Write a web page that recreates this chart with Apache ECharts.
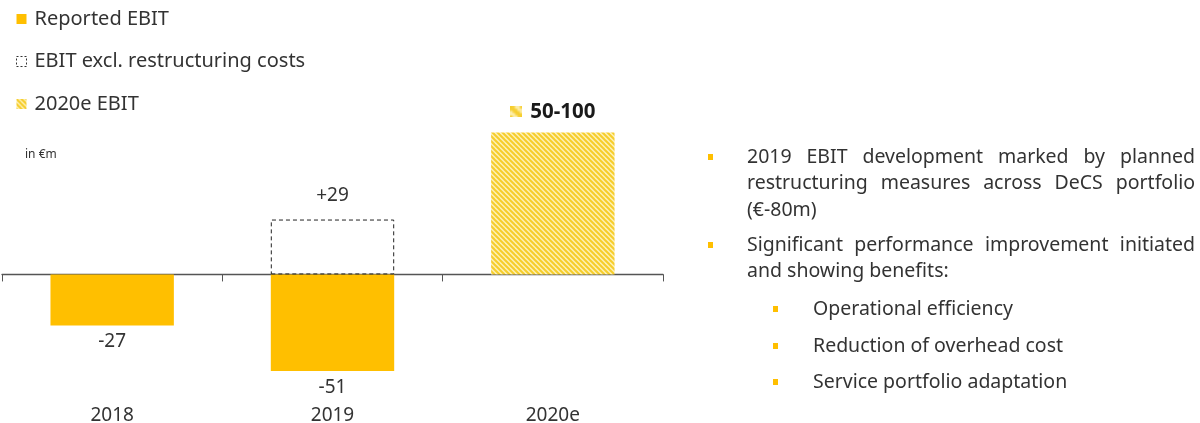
<!DOCTYPE html>
<html>
<head>
<meta charset="utf-8">
<script src="https://cdn.jsdelivr.net/npm/echarts@6/dist/echarts.min.js"></script>
<style>
  html, body { margin: 0; padding: 0; background: #fff; }
  #chart { width: 1200px; height: 423px; }
</style>
</head>
<body>
<div id="chart"></div>
<script>
// EBIT development, in €m
const categories = ['2018', '2019', '2020e'];
const reportedEbit = [-27, -51, null];
const ebitExclRestructuring = [null, 29, null];
const forecastEbit = [null, null, 75];          // midpoint of the 50-100 guidance range
const forecastLabel = '50-100';
const seriesNames = ['Reported EBIT', 'EBIT excl. restructuring costs', '2020e EBIT'];
const unitLabel = 'in €m';

const bulletPoints = [
  { level: 0, lines: ['2019 EBIT development marked by planned', 'restructuring measures across DeCS portfolio', '(€-80m)'] },
  { level: 0, lines: ['Significant performance improvement initiated', 'and showing benefits:'] },
  { level: 1, lines: ['Operational efficiency'] },
  { level: 1, lines: ['Reduction of overhead cost'] },
  { level: 1, lines: ['Service portfolio adaptation'] }
];

const YELLOW = '#FFBF00';
const TEXT = '#333333';
const FONT = '"Noto Sans", "Open Sans", sans-serif';

// Diagonal hatch used for the forecast bar
function makeHatch() {
  const s = 5;
  const c = document.createElement('canvas');
  c.width = s; c.height = s;
  const g = c.getContext('2d');
  g.fillStyle = '#fdf0b4';
  g.fillRect(0, 0, s, s);
  g.strokeStyle = '#f6cd2a';
  g.lineWidth = 2;
  for (let k = -1; k <= 1; k++) {
    g.beginPath();
    g.moveTo(k * s - 1, -1);
    g.lineTo(k * s + s + 1, s + 1);
    g.stroke();
  }
  return c;
}
const hatchCanvas = makeHatch();
const hatch = { image: hatchCanvas, repeat: 'repeat' };

// Right-hand bullet text, with full-justified lines like a slide text box
const measureCtx = document.createElement('canvas').getContext('2d');
const bodyFont = '19.5px ' + FONT;
measureCtx.font = bodyFont;

const graphics = [];
function addText(str, x, y) {
  graphics.push({
    type: 'text', x: x, y: y, silent: true,
    style: { text: str, fill: TEXT, font: bodyFont, textVerticalAlign: 'middle' }
  });
}
function justifiedLine(str, x0, x1, y) {
  const words = str.split(' ');
  const widths = words.map(w => measureCtx.measureText(w).width);
  const total = widths.reduce((a, b) => a + b, 0);
  const gap = words.length > 1 ? (x1 - x0 - total) / (words.length - 1) : 0;
  let x = x0;
  words.forEach((w, i) => { addText(w, x, y); x += widths[i] + gap; });
}
function bullet(x, y) {
  graphics.push({ type: 'rect', silent: true, shape: { x: x, y: y - 3, width: 5, height: 6 }, style: { fill: YELLOW } });
}

const lineStep = 26.5;
const textLeft = [747, 813];
const bulletLeft = [708, 773];
const textRight = 1195;
const blockTops = [157, 245, 309, 346, 382];
bulletPoints.forEach((bp, bi) => {
  const lvl = bp.level;
  bullet(bulletLeft[lvl], blockTops[bi]);
  bp.lines.forEach((ln, li) => {
    const y = blockTops[bi] + li * lineStep;
    if (li < bp.lines.length - 1) justifiedLine(ln, textLeft[lvl], textRight, y);
    else addText(ln, textLeft[lvl], y);
  });
});

// Unit caption above the plot
graphics.push({
  type: 'text', x: 25, y: 155, silent: true,
  style: { text: unitLabel, fill: TEXT, font: '12px ' + FONT, textVerticalAlign: 'middle' }
});

const chart = echarts.init(document.getElementById('chart'), null, { renderer: 'canvas' });

chart.setOption({
  animation: false,
  backgroundColor: '#ffffff',
  textStyle: { fontFamily: FONT },
  legend: {
    orient: 'vertical',
    left: 16,
    top: 8,
    padding: 0,
    itemWidth: 10,
    itemHeight: 10,
    itemGap: 20.5,
    selectedMode: false,
    textStyle: { fontSize: 20, color: TEXT, lineHeight: 22, fontFamily: FONT, padding: [0, 0, 0, 3] },
    data: [
      { name: seriesNames[0], icon: 'rect', itemStyle: { color: YELLOW } },
      { name: seriesNames[1], icon: 'rect',
        itemStyle: { color: 'rgba(0,0,0,0)', borderColor: '#333', borderWidth: 1, borderType: [2, 2] } },
      { name: seriesNames[2], icon: 'rect', itemStyle: { color: hatch } }
    ]
  },
  grid: { left: 2, right: 537, top: 123, height: 265, outerBoundsMode: 'none', containLabel: false },
  xAxis: {
    type: 'category',
    data: categories,
    axisLine: { onZero: true, lineStyle: { color: '#555', width: 1.3 } },
    axisTick: { show: true, length: 7, inside: false, lineStyle: { color: '#555' } },
    // category names sit below the plot area, under the lowest bar labels
    axisLabel: { margin: 18, fontSize: 19, color: TEXT, fontFamily: FONT },
    splitLine: { show: false }
  },
  yAxis: {
    type: 'value',
    min: -60,
    max: 80,
    show: false,
    splitLine: { show: false }
  },
  series: [
    {
      name: seriesNames[0],
      type: 'bar',
      barWidth: '56%',
      barGap: '-100%',
      data: reportedEbit,
      itemStyle: { color: YELLOW },
      label: {
        show: true, position: 'bottom', distance: 7,
        fontSize: 19, color: TEXT, fontFamily: FONT,
        formatter: p => (p.value == null ? '' : String(p.value))
      }
    },
    {
      name: seriesNames[1],
      type: 'bar',
      barWidth: '56%',
      barGap: '-100%',
      data: ebitExclRestructuring,
      itemStyle: { color: 'rgba(0,0,0,0)', borderColor: '#222', borderWidth: 1, borderType: [4, 3] },
      label: {
        show: true, position: 'top', distance: 14,
        fontSize: 19, color: TEXT, fontFamily: FONT,
        formatter: p => (p.value == null ? '' : '+' + p.value)
      }
    },
    {
      name: seriesNames[2],
      type: 'bar',
      barWidth: '56%',
      barGap: '-100%',
      data: forecastEbit,
      itemStyle: { color: hatch },
      label: {
        show: true, position: 'top', distance: 10,
        formatter: p => (p.value == null ? '' : '{ico|}{v|' + forecastLabel + '}'),
        rich: {
          ico: { width: 12, height: 11, backgroundColor: { image: hatchCanvas } },
          v: { fontSize: 20.5, fontWeight: 'bold', color: '#1a1a1a', fontFamily: FONT, padding: [0, 0, 0, 8] }
        }
      }
    }
  ],
  graphic: graphics
});
</script>
</body>
</html>
